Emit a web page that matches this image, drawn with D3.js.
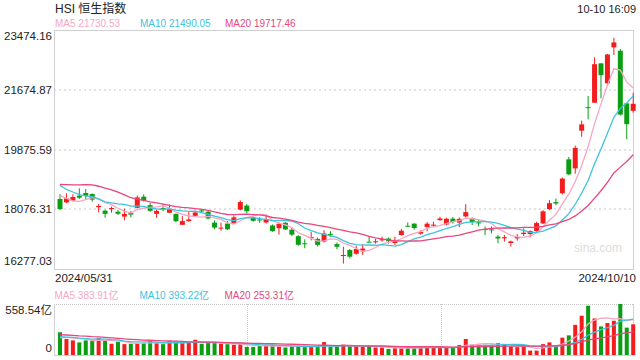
<!DOCTYPE html>
<html><head><meta charset="utf-8">
<script src="https://cdn.jsdelivr.net/npm/d3@7/dist/d3.min.js"></script>
<style>body{margin:0;background:#fff}svg{display:block}</style>
</head><body><svg id="c" width="640" height="360"></svg>
<script>
const dates = ["2024/05/31","06/03","06/04","06/05","06/06","06/07","06/11","06/12","06/13","06/14","06/17","06/18","06/19","06/20","06/21","06/24","06/25","06/26","06/27","06/28",
"07/02","07/03","07/04","07/05","07/08","07/09","07/10","07/11","07/12","07/15","07/16","07/17","07/18","07/19","07/22","07/23","07/24","07/25","07/26","07/29","07/30","07/31",
"08/01","08/02","08/05","08/06","08/07","08/08","08/09","08/12","08/13","08/14","08/15","08/16","08/19","08/20","08/21","08/22","08/23","08/26","08/27","08/28","08/29","08/30",
"09/02","09/03","09/04","09/05","09/09","09/10","09/11","09/12","09/13","09/16","09/17","09/19","09/20","09/23","09/24","09/25","09/26","09/27","09/30",
"10/02","10/03","10/04","10/07","10/08","10/09","2024/10/10"];
const open  = [18385,18284,18335,18485,18565,18535,18140,18033,18080,18003,17856,17960,18119,18455,18199,17938,18113,17970,17936,17608,
17719,17878,18040,18000,17674,17513,17642,17662,18063,18186,17828,17769,17678,17588,17505,17670,17462,17266,17051,17208,17183,17104,
17335,17026,16678,16848,16737,16812,17100,17100,17140,17194,17059,17300,17580,17641,17341,17540,17580,17748,17620,17793,17676,17859,
17812,17680,17480,17470,17250,17200,17060,17200,17330,17330,17420,17650,18080,18290,18560,19580,19307,20442,21150,
21285,22470,21868,22952,22850,21265,21040];
const high  = [18535,18555,18525,18706,18686,18555,18234,18063,18154,18054,18094,18023,18490,18525,18269,18058,18233,18220,17946,17869,
17990,18028,18090,18050,17744,17673,17722,17892,18343,18236,17848,17839,17868,17618,17686,17690,17542,17296,17171,17388,17223,17444,
17415,17076,16950,16878,16978,17022,17260,17180,17250,17224,17250,17480,17680,17661,17440,17690,17700,17850,17820,17843,17826,18229,
17832,17760,17560,17560,17300,17300,17130,17330,17500,17440,17700,18050,18350,18400,19030,19650,19990,20743,21486,
22650,22470,22751,23241.74,22900,21265,21586];
const low   = [18060,18260,18305,18385,18385,18305,17983,17822,17973,17903,17742,17833,18100,18305,17998,17818,18013,17960,17686,17600,
17700,17848,17990,17770,17474,17433,17452,17642,18043,17946,17700,17669,17648,17398,17315,17450,17271,16975,16901,17138,16953,17074,
17235,16876,16441.44,16597,16707,16701,17080,17040,17100,17043,17000,17280,17560,17461,17310,17410,17550,17730,17590,17642,17536,17829,
17601,17560,17300,17350,17050,17100,16950,17130,17270,17230,17400,17630,18050,18200,18520,19100,19150,20261,20783,
21285,21416,21817,22721,20900,20181,20984];
const close = [18079.61,18403.04,18444.11,18424.96,18476.80,18366.95,18176.34,17937.84,18112.63,17941.78,17936.12,17915.55,18430.39,18335.32,18028.52,18027.71,18072.90,18089.93,17716.47,17718.61,
17769.14,17978.57,18028.28,17799.61,17524.06,17523.23,17471.67,17832.33,18293.38,18015.94,17727.98,17739.41,17778.41,17417.68,17635.88,17469.36,17311.05,17005.22,17021.31,17238.38,17002.91,17344.60,
17304.96,16945.51,16698.36,16647.34,16877.86,16891.83,17090.23,17111.77,17174.06,17113.36,17109.14,17430.16,17569.57,17511.06,17391.01,17641.02,17612.10,17798.73,17790.17,17692.45,17786.32,17989.07,
17691.97,17651.49,17457.34,17444.30,17196.96,17234.09,17108.71,17240.39,17369.09,17422.12,17660.02,18013.16,18258.57,18247.68,19000.56,19129.10,19924.58,20632.30,21133.68,
22443.73,22113.51,22736.87,23099.78,20926.79,20637.24,21251.98];
// turnover, 亿
const volume = [249,175,160,138,160,160,186,160,123,145,119,123,130,130,160,130,119,149,149,130,
141,167,123,130,130,123,119,112,119,89,89,100,104,112,93,82,93,93,93,93,93,141,
93,93,115,93,100,93,100,82,82,67,74,74,82,82,82,93,82,82,82,82,108,175,
112,112,112,112,130,112,93,86,93,48,48,119,138,104,190,215,330,430,540,
400,312.65,350,375,558.54,300,336];
// closes / turnover of the 19 sessions before 2024/05/31 (for the moving averages)
const priorCloses = [18475.92,18578.30,18479.37,18313.86,18537.81,18963.68,19115.06,19073.71,19376.53,19553.61,
19636.22,19220.62,19195.60,18868.71,18608.94,18827.35,18821.16,18477.01,18230.19];
const priorVolumes = [250,240,260,230,255,245,250,240,245,245,215,200,220,205,210,170,180,175,176];

const priceTicks = [16277.03,18076.31,19875.59,21674.87,23474.16];
const volTicks = [0,558.54];
const maPeriods = [5,10,20];
const maColors = ["#f9a6c3","#3ec3de","#e8467c"];
const priceMaLabels = ["21730.53","21490.05","19717.46"];
const volMaLabels = ["383.91亿","393.22亿","253.31亿"];
const titleText = "HSI 恒生指数";
const timeText = "10-10 16:09";

const svg = d3.select("#c");
const L=54,R=634,T=30,B=269,VT=304,VB=355;
const UP="#f41c1c", DN="#0b9e13";
const FONT="'Liberation Sans', Arial, 'Noto Sans CJK SC', sans-serif";

const x = d3.scalePoint().domain(d3.range(dates.length)).range([60,633.2]);
const y = d3.scaleLinear().domain([priceTicks[0],priceTicks[4]]).range([B,T]);
const yv = d3.scaleLinear().domain([0,volTicks[1]]).range([VB,VT]);

function ma(prior, series, n){
  const all = prior.concat(series), off = prior.length;
  return series.map((_,i)=>{const s=all.slice(off+i-n+1,off+i+1);return d3.mean(s);});
}

// frames and grid
const g = svg.append("g");
g.selectAll("line.hg").data(priceTicks.slice(1,4)).join("line")
 .attr("x1",L).attr("x2",R).attr("y1",d=>Math.round(y(d))).attr("y2",d=>Math.round(y(d)))
 .attr("stroke","#e2e2e2").attr("stroke-width",2).attr("stroke-dasharray","2,3");
g.append("rect").attr("x",L+0.5).attr("y",T+0.5).attr("width",R-L-1).attr("height",B-T)
 .attr("fill","none").attr("stroke","#d0d0d0");
// volume frame
g.append("line").attr("x1",L).attr("x2",R).attr("y1",VT+0.5).attr("y2",VT+0.5).attr("stroke","#c8c8c8").attr("stroke-dasharray","1,1");
g.append("line").attr("x1",L).attr("x2",R).attr("y1",VB+0.5).attr("y2",VB+0.5).attr("stroke","#d0d0d0");
g.append("line").attr("x1",L+0.5).attr("x2",L+0.5).attr("y1",VT).attr("y2",VB).attr("stroke","#d0d0d0");
g.append("line").attr("x1",R-0.5).attr("x2",R-0.5).attr("y1",VT).attr("y2",VB).attr("stroke","#d0d0d0");
[1,2].forEach(k=>{const xx=Math.round(L+(R-L)*k/3)+0.5;
 g.append("line").attr("x1",xx).attr("x2",xx).attr("y1",VT).attr("y2",VB).attr("stroke","#c8c8c8").attr("stroke-dasharray","1,1");});

// watermark
svg.append("text").attr("x",622).attr("y",252).attr("text-anchor","end").attr("font-family",FONT)
 .attr("font-size",12).attr("fill","#dcdcdc").text("sina.com");

// candles
const idx = d3.range(dates.length);
const cg = svg.append("g");
const bw = 5;
cg.selectAll("line.w").data(idx).join("line")
 .attr("x1",i=>x(i)).attr("x2",i=>x(i)).attr("y1",i=>y(high[i])).attr("y2",i=>y(low[i]))
 .attr("stroke",i=>close[i]>=open[i]?UP:DN).attr("stroke-width",1);
cg.selectAll("rect.b").data(idx).join("rect")
 .attr("x",i=>x(i)-bw/2).attr("width",bw)
 .attr("y",i=>y(Math.max(open[i],close[i])))
 .attr("height",i=>Math.max(1,Math.abs(y(open[i])-y(close[i]))))
 .attr("fill",i=>close[i]>=open[i]?UP:DN);

// price MAs
const line = d3.line().x((d,i)=>x(i)).y(d=>y(d));
maPeriods.forEach((n,k)=>{
  svg.append("path").attr("d",line(ma(priorCloses,close,n))).attr("fill","none")
   .attr("stroke",maColors[k]).attr("stroke-width",1.3);
});

// volume bars
const vbw = 4;
svg.append("g").selectAll("rect").data(idx).join("rect")
 .attr("x",i=>x(i)-vbw/2).attr("width",vbw)
 .attr("y",i=>yv(volume[i])).attr("height",i=>VB-yv(volume[i]))
 .attr("fill",i=>close[i]>=open[i]?UP:DN);
const vline = d3.line().x((d,i)=>x(i)).y(d=>yv(d));
maPeriods.forEach((n,k)=>{
  svg.append("path").attr("d",vline(ma(priorVolumes,volume,n))).attr("fill","none")
   .attr("stroke",maColors[k]).attr("stroke-width",1.3);
});

// axes
const ay = svg.append("g").attr("transform",`translate(${L-1},0)`)
 .call(d3.axisLeft(y).tickValues(priceTicks).tickSize(0).tickPadding(1).tickFormat(d3.format(".2f")));
ay.select(".domain").remove();
ay.selectAll("text").attr("font-family",FONT).attr("font-size",11.5).attr("fill","#222")
 .attr("dy",(d,i)=> i===0?"-0.35em": i===4?"0.85em":"0.32em");
const av = svg.append("g").attr("transform",`translate(${L-1},0)`)
 .call(d3.axisLeft(yv).tickValues(volTicks).tickSize(0).tickPadding(1).tickFormat(d=>d===0?"0":d3.format(".2f")(d)+"亿"));
av.select(".domain").remove();
av.selectAll("text").attr("font-family",FONT).attr("font-size",11.5).attr("fill","#222")
 .attr("dy",(d,i)=> i===0?"-0.3em":"0.85em");

// date labels
svg.append("text").attr("x",55).attr("y",282).attr("font-family",FONT).attr("font-size",11.5).attr("fill","#222").text(dates[0]);
svg.append("text").attr("x",636).attr("y",282).attr("text-anchor","end").attr("font-family",FONT).attr("font-size",11.5).attr("fill","#222").text(dates[dates.length-1]);

// title and legends
svg.append("text").attr("x",55).attr("y",12.5).attr("font-family",FONT).attr("font-size",12).attr("fill","#222").text(titleText);
svg.append("text").attr("x",636).attr("y",13).attr("text-anchor","end").attr("font-family",FONT).attr("font-size",11).attr("fill","#222").text(timeText);
const lx=[55,140,225];
maPeriods.forEach((n,k)=>{
  svg.append("text").attr("x",lx[k]).attr("y",27).attr("font-family",FONT).attr("font-size",10).attr("fill",maColors[k]).text(`MA${n} ${priceMaLabels[k]}`);
  svg.append("text").attr("x",lx[k]-0.5).attr("y",299).attr("font-family",FONT).attr("font-size",10).attr("fill",maColors[k]).text(`MA${n} ${volMaLabels[k]}`);
});
</script></body></html>
